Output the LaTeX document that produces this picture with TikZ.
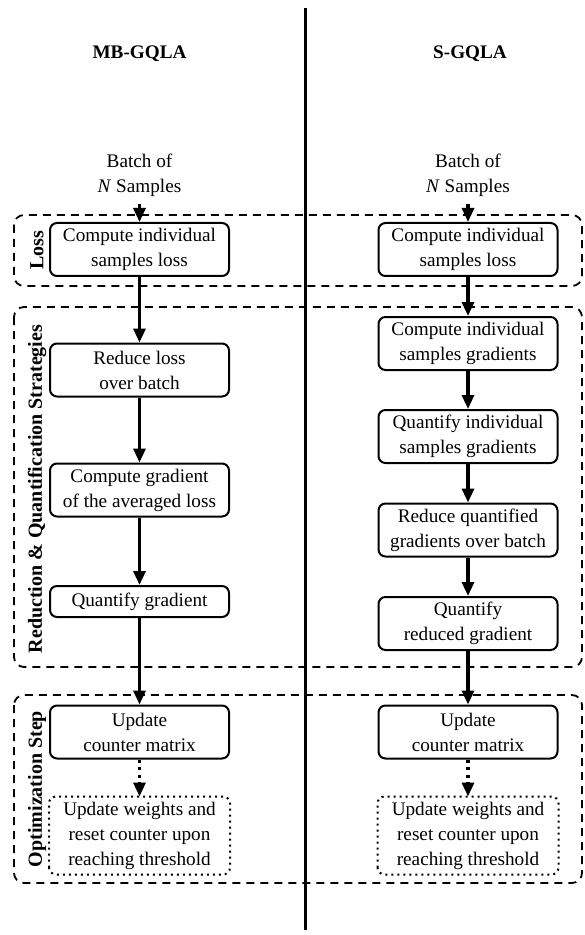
\documentclass[tikz,border=0pt]{standalone}
\usepackage{fontspec}
\setmainfont{Liberation Serif}
\usetikzlibrary{arrows.meta}
\begin{document}
\begin{tikzpicture}[x=0.5pt,y=-0.5pt,
  every node/.style={font=\fontsize{9.6}{12.5}\selectfont},
  procbox/.style={draw, line width=1pt, rounded corners=3.5pt, align=center,
    minimum width=89.5pt, minimum height=26.5pt, inner sep=2pt},
  onebox/.style={procbox, minimum height=15.5pt},
  thrbox/.style={procbox, draw=none, minimum height=38pt},
  dotbox/.style={line width=1pt, dotted, rounded corners=3.5pt},
  dashbox/.style={line width=0.9pt, dash pattern=on 4pt off 3pt, rounded corners=5pt},
  flow/.style={line width=1.6pt, -{Triangle[length=7pt,width=6pt]}},
  dotflow/.style={line width=1.6pt, dash pattern=on 1.6pt off 2.2pt, -{Triangle[length=7pt,width=6pt]}},
  sectlabel/.style={rotate=90, font=\fontsize{10}{12.5}\selectfont\bfseries},
  title/.style={font=\fontsize{9.6}{12.5}\selectfont\bfseries},
  batch/.style={align=center, inner sep=3.5pt}
]
\useasboundingbox (0,0) rectangle (584,935);

% section frames
\draw[dashbox] (14,215) rectangle (582,286);
\draw[dashbox] (14,307) rectangle (582,667);
\draw[dashbox] (14,695) rectangle (582,883);

% divider
\coordinate (divtop) at (305,8);
\coordinate (divbot) at (305,930);
\draw[line width=1.5pt] (divtop) -- (divbot);

% section labels
\node[sectlabel] (lblLoss) at (37,250.5) {Loss};
\node[sectlabel] (lblRed) at (37,489) {Reduction \& Quantification Strategies};
\node[sectlabel] (lblOpt) at (37,789) {Optimization Step};

% titles
\node[title] (titleL) at (139.5,54) {MB-GQLA};
\node[title] (titleR) at (470,54) {S-GQLA};

% left column
\node[batch] (batchL) at (139.5,175) {Batch of\\\textit{N} Samples};
\node[procbox] (lossL) at (139.5,249.5) {Compute individual\\samples loss};
\node[procbox] (reduceL) at (139.5,370) {Reduce loss\\over batch};
\node[procbox] (gradL) at (139.5,490) {Compute gradient\\of the averaged loss};
\node[onebox] (quantL) at (139.5,601.5) {Quantify gradient};
\node[procbox] (updL) at (139.5,732) {Update\\counter matrix};
\node[thrbox] (thrL) at (139.5,835.5) {Update weights and\\reset counter upon\\reaching threshold};
\draw[dotbox] (thrL.south west) rectangle (thrL.north east);

% right column
\node[batch] (batchR) at (468,175) {Batch of\\\textit{N} Samples};
\node[procbox] (lossR) at (468,249.5) {Compute individual\\samples loss};
\node[procbox] (cigR) at (468,343.5) {Compute individual\\samples gradients};
\node[procbox] (qigR) at (468,436.5) {Quantify individual\\samples gradients};
\node[procbox] (rqgR) at (468,530) {Reduce quantified\\gradients over batch};
\node[procbox] (qrgR) at (468,623.5) {Quantify\\reduced gradient};
\node[procbox] (updR) at (468,732) {Update\\counter matrix};
\node[thrbox] (thrR) at (468,835.5) {Update weights and\\reset counter upon\\reaching threshold};
\draw[dotbox] (thrR.south west) rectangle (thrR.north east);

% left arrows
\draw[flow] (batchL) -- (lossL);
\draw[flow] (lossL) -- (reduceL);
\draw[flow] (reduceL) -- (gradL);
\draw[flow] (gradL) -- (quantL);
\draw[flow] (quantL) -- (updL);
\draw[dotflow] (updL) -- (thrL);

% right arrows
\draw[flow] (batchR) -- (lossR);
\draw[flow] (lossR) -- (cigR);
\draw[flow] (cigR) -- (qigR);
\draw[flow] (qigR) -- (rqgR);
\draw[flow] (rqgR) -- (qrgR);
\draw[flow] (qrgR) -- (updR);
\draw[dotflow] (updR) -- (thrR);
\end{tikzpicture}
\end{document}
